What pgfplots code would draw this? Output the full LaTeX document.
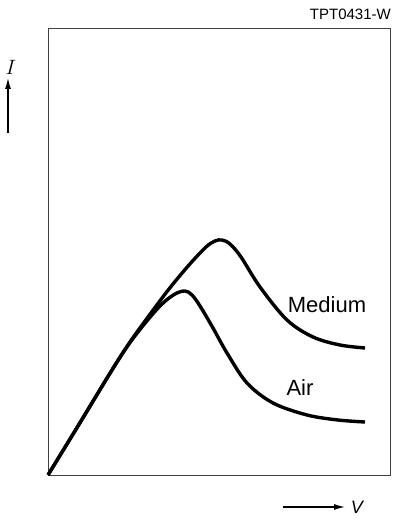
\documentclass[border=0pt]{standalone}
\usepackage{fontspec}
\setmainfont{Liberation Sans}
\usepackage{pgfplots}
\pgfplotsset{compat=1.18}
\usetikzlibrary{arrows.meta}
\begin{document}
\begin{tikzpicture}[x=1pt,y=1pt]
\useasboundingbox (0,0) rectangle (394,523);
\begin{axis}[
  at={(48pt,48pt)}, anchor=south west,
  scale only axis,
  width=342pt, height=447pt,
  xmin=0, xmax=342, ymin=0, ymax=447,
  xtick=\empty, ytick=\empty,
  axis line style={line width=0.7pt, black!75},
  clip=false,
]
% Medium
\addplot[smooth, tension=0.55, line width=3.4pt, black] coordinates {
  (0,0) (30,49) (64,105) (82,133) (100,158) (121,186) (141,210)
  (158,228) (167,234) (174,235) (182,231) (193,218) (212,188)
  (239,155) (265,138) (292,130) (317,127)
};
% Air
\addplot[smooth, tension=0.55, line width=3.4pt, black] coordinates {
  (0,0) (30,49) (64,105) (81,131) (98,153) (114,171) (127,181)
  (137,184) (144,180) (152,169) (165,147) (179,122)
  (199,92) (225,72) (259,60) (290,55) (317,53)
};
\node[font=\fontsize{22}{24}\selectfont] at (axis cs:279,170) {Medium};
\node[font=\fontsize{22}{24}\selectfont] at (axis cs:252,87) {Air};
\end{axis}
\node[font=\fontsize{15}{17}\selectfont, inner sep=0pt, anchor=east] at (391,509) {TPT0431-W};
\node[font=\fontsize{20}{22}\selectfont] at (11,456) {$I$};
\draw[line width=1.3pt, -{Latex[length=11pt,width=6pt]}] (8,390) -- (8,445);
\draw[line width=1.3pt, -{Latex[length=11pt,width=6pt]}] (283,16) -- (345,16);
\node[font=\fontsize{18}{20}\selectfont\itshape] at (357,16) {V};
\end{tikzpicture}
\end{document}
